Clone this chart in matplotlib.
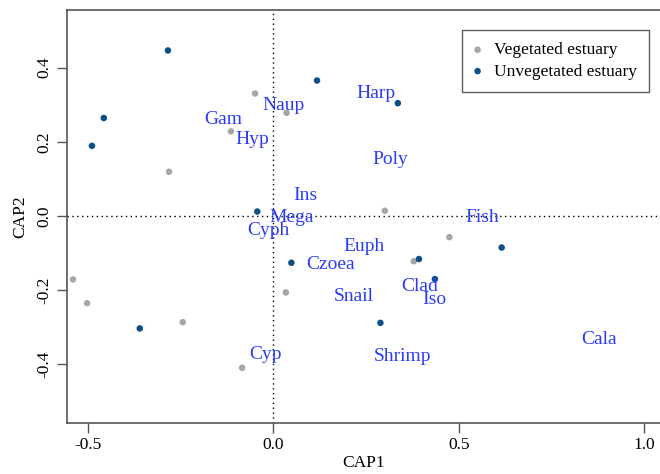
import matplotlib
matplotlib.use("Agg")
import matplotlib.pyplot as plt

plt.rcParams['font.family'] = ['Liberation Serif', 'DejaVu Serif']

veg_x = [-0.281, -0.049, 0.036, -0.114, 0.301, 0.475, -0.540, -0.502, -0.244, -0.084, 0.034, 0.379]
veg_y = [0.119, 0.330, 0.278, 0.228, 0.014, -0.057, -0.171, -0.235, -0.286, -0.409, -0.206, -0.122]
unveg_x = [-0.284, -0.457, -0.489, 0.118, -0.043, 0.336, -0.360, 0.049, 0.616, 0.393, 0.436, 0.289]
unveg_y = [0.446, 0.264, 0.189, 0.365, 0.012, 0.304, -0.303, -0.126, -0.085, -0.116, -0.170, -0.288]

species = ["Naup", "Gam", "Hyp", "Ins", "Mega", "Cyph", "Harp", "Poly", "Fish", "Euph",
           "Czoea", "Clad", "Iso", "Snail", "Shrimp", "Cala", "Cyp"]
sp_x = [0.029, -0.135, -0.057, 0.087, 0.050, -0.012, 0.276, 0.315, 0.565, 0.245,
        0.155, 0.396, 0.434, 0.218, 0.348, 0.880, -0.022]
sp_y = [0.299, 0.259, 0.205, 0.054, -0.004, -0.040, 0.331, 0.151, -0.004, -0.083,
        -0.132, -0.191, -0.226, -0.218, -0.379, -0.334, -0.372]

xticks = [-0.5, 0.0, 0.5, 1.0]
yticks = [-0.4, -0.2, 0.0, 0.2, 0.4]

fig = plt.figure(figsize=(6.6, 4.74), dpi=100)
ax = fig.add_axes([66.7/660, (474-422.7)/474, 1 - 66.7/660, (422.7-10)/474])

ax.axhline(0, color='black', ls=(0, (1, 2.5)), lw=1.0, zorder=1)
ax.axvline(0, color='black', ls=(0, (1, 2.5)), lw=1.0, zorder=1)

ax.scatter(veg_x, veg_y, s=22, color='#a6a6a6', edgecolors='none', label='Vegetated estuary', zorder=3)
ax.scatter(unveg_x, unveg_y, s=22, color='#0b4f86', edgecolors='none', label='Unvegetated estuary', zorder=3)

for name, x, y in zip(species, sp_x, sp_y):
    ax.text(x, y, name, color='#2a3cf8', fontsize=14, ha='center', va='center', zorder=4)

ax.set_xlim(-0.557, 1.043)
ax.set_ylim(-0.557, 0.555)
ax.set_xticks(xticks)
ax.set_xticklabels(["-0.5", "0.0", "0.5", "1.0"])
ax.set_yticks(yticks)
ax.set_yticklabels(["-0.4", "-0.2", "0.0", "0.2", "0.4"], rotation=90, va='center')

for s in ['left', 'bottom', 'top']:
    ax.spines[s].set_color('#555555')
    ax.spines[s].set_linewidth(1.2)
ax.spines['right'].set_visible(False)
ax.tick_params(direction='out', length=7.5, width=1.0, color='#555555', labelsize=12.5, pad=3)

ax.set_xlabel('CAP1', fontsize=12.5, labelpad=1)
ax.set_ylabel('CAP2', fontsize=12.5, labelpad=6)

leg = ax.legend(loc='upper right', bbox_to_anchor=(0.982, 0.9515), borderaxespad=0,
                fontsize=12.5, frameon=True, fancybox=False, handletextpad=0.78,
                handlelength=0.35, borderpad=0.7, labelspacing=0.3)
leg.get_frame().set_edgecolor('#333333')
leg.get_frame().set_linewidth(1.0)

fig.savefig('out.png', dpi=100)
